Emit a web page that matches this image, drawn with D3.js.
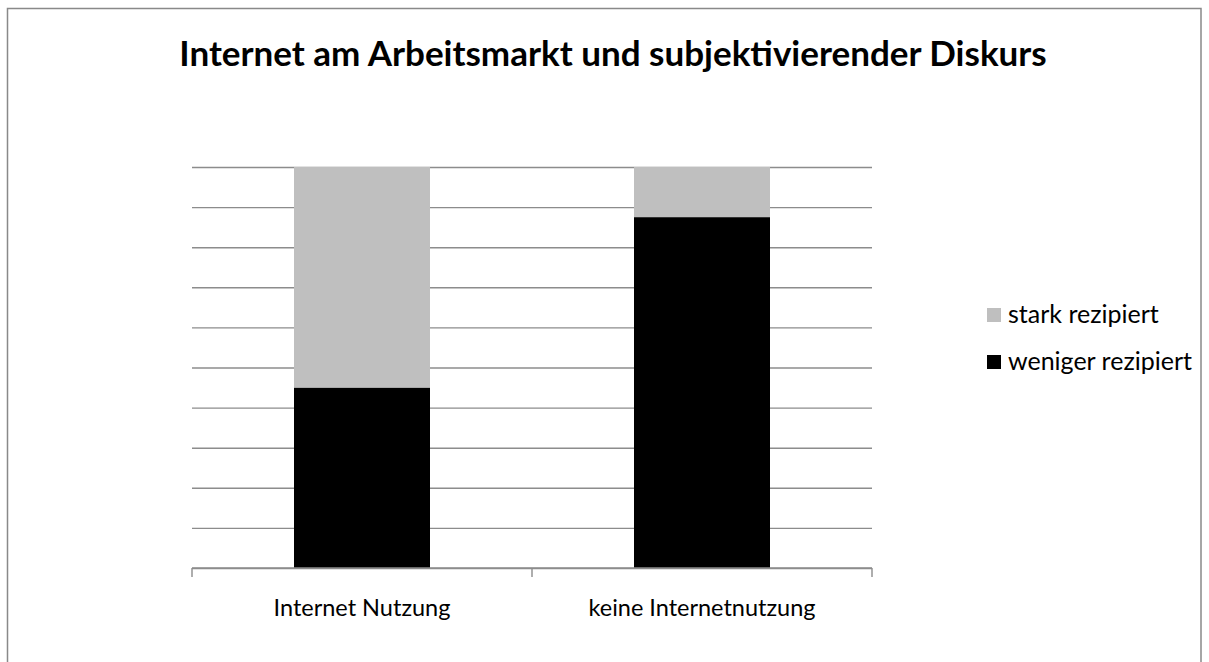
<!DOCTYPE html>
<html>
<head>
<meta charset="utf-8">
<script src="https://cdn.jsdelivr.net/npm/d3@7"></script>
<style>
  body { margin: 0; background: #fff; }
  text { font-family: Lato, "Open Sans", sans-serif; fill: #000; }
</style>
</head>
<body>
<div id="chart"></div>
<script>
(function () {

  const categories = ["Internet Nutzung", "keine Internetnutzung"]
  const seriesNames = ["weniger rezipiert", "stark rezipiert"]
  const weniger = [45, 87.5]
  const stark = [55, 12.5]
  const colors = ["#000000", "#bfbfbf"]

  const W = 1209, H = 662
  const margin = { top: 167, left: 192, right: W - 872, bottom: H - 568 }
  const width = W - margin.left - margin.right
  const height = H - margin.top - margin.bottom

  const root = d3.select("#chart").append("svg")
      .attr("width", W)
      .attr("height", H)

  // outer frame
  root.append("rect")
    .attr("x", 7.5).attr("y", 8.5)
    .attr("width", 1201 - 7.5).attr("height", 700)
    .attr("fill", "none")
    .attr("stroke", "#898989")
    .attr("stroke-width", 1.5)

  root.append("text")
    .attr("x", 613)
    .attr("y", 66)
    .attr("text-anchor", "middle")
    .style("font-size", "35px")
    .style("font-weight", "bold")
    .text("Internet am Arbeitsmarkt und subjektivierender Diskurs")

  const svg = root.append("g")
      .attr("transform", "translate(" + margin.left + "," + margin.top + ")")

  const xPositionScale = d3.scaleBand()
    .domain(categories)
    .range([0, width])
    .paddingInner(0.6)
    .paddingOuter(0.3)

  const yPositionScale = d3.scaleLinear()
    .domain([0, 100])
    .range([height, 0])

  // gridlines
  svg.append("g")
    .attr("class", "grid")
    .call(d3.axisLeft(yPositionScale).ticks(10).tickSize(-width).tickFormat(""))
    .call(g => g.select(".domain").remove())
    .call(g => g.selectAll("line").attr("stroke", "#8c8c8c").attr("stroke-width", 1.4))

  const rows = categories.map((c, i) => ({ cat: c, "weniger rezipiert": weniger[i], "stark rezipiert": stark[i] }))
  const stacked = d3.stack().keys(seriesNames)(rows)

  svg.selectAll(".series")
    .data(stacked)
    .join("g")
    .attr("class", "series")
    .attr("fill", (d, i) => colors[i])
    .selectAll("rect")
    .data(d => d)
    .join("rect")
    .attr("x", d => xPositionScale(d.data.cat))
    .attr("width", xPositionScale.bandwidth())
    .attr("y", d => yPositionScale(d[1]))
    .attr("height", d => yPositionScale(d[0]) - yPositionScale(d[1]))

  // x axis with boundary ticks
  const xAxis = svg.append("g")
    .attr("transform", "translate(0," + height + ")")
  xAxis.append("line")
    .attr("x1", 0).attr("x2", width)
    .attr("stroke", "#8c8c8c").attr("stroke-width", 1.4)
  const step = width / categories.length
  xAxis.selectAll(".tk")
    .data(d3.range(categories.length + 1))
    .join("line")
    .attr("class", "tk")
    .attr("x1", d => d * step).attr("x2", d => d * step)
    .attr("y1", 0).attr("y2", 9)
    .attr("stroke", "#8c8c8c").attr("stroke-width", 1.4)
  xAxis.selectAll(".lbl")
    .data(categories)
    .join("text")
    .attr("class", "lbl")
    .attr("x", d => xPositionScale(d) + xPositionScale.bandwidth() / 2)
    .attr("y", 48)
    .attr("text-anchor", "middle")
    .style("font-size", "23.5px")
    .text(d => d)

  // legend
  const legendItems = [
    { name: "stark rezipiert", color: colors[1] },
    { name: "weniger rezipiert", color: colors[0] }
  ]
  const legend = root.append("g")
    .selectAll("g")
    .data(legendItems)
    .join("g")
    .attr("transform", (d, i) => "translate(987," + (315 + i * 47) + ")")
  legend.append("rect")
    .attr("x", 0).attr("y", -7)
    .attr("width", 14).attr("height", 14)
    .attr("fill", d => d.color)
  legend.append("text")
    .attr("x", 21)
    .attr("y", 8)
    .style("font-size", "25px")
    .text(d => d.name)

})();
</script>
</body>
</html>
